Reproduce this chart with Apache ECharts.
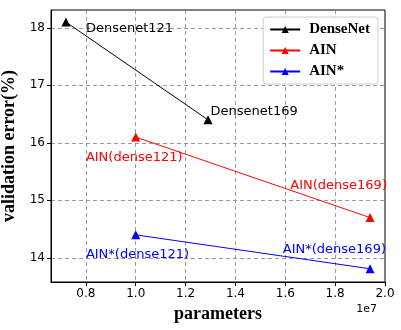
<!DOCTYPE html>
<html><head><meta charset="utf-8">
<script src="https://cdn.jsdelivr.net/npm/echarts@6/dist/echarts.min.js"></script>
<style>html,body{margin:0;padding:0;background:#fff}#c{width:401px;height:330px}</style>
</head><body><div id="c"></div>
<script>
// x values in units of 1e7 parameters
const denseX = [0.72, 1.29];
const denseY = [18.1, 16.4];
const ainX = [1.0, 1.94];
const ainY = [16.1, 14.7];
const ainStarX = [1.0, 1.94];
const ainStarY = [14.4, 13.81];
const xTicks = [0.8, 1.0, 1.2, 1.4, 1.6, 1.8, 2.0];
const yTicks = [14, 15, 16, 17, 18];
const annText = ['Densenet121', 'Densenet169', 'AIN(dense121)', 'AIN(dense169)', 'AIN*(dense121)', 'AIN*(dense169)'];
const annX = [0.80, 1.30, 0.80, 1.62, 0.80, 1.59];
const annY = [17.99, 16.55, 15.74, 15.25, 14.05, 14.15];
const annColor = ['#000000', '#000000', '#ff0000', '#ff0000', '#0000ff', '#0000ff'];

const chart = echarts.init(document.getElementById('c'));
const pair = (xs, ys) => xs.map((x, i) => [x, ys[i]]);
const lineSeries = (name, xs, ys, color) => ({
  name, type: 'line', data: pair(xs, ys), symbol: 'triangle', symbolSize: 9,
  lineStyle: {color, width: 1}, itemStyle: {color}, animation: false, z: 3
});
const gridLine = {show: true, lineStyle: {color: '#808080', type: [4, 3], width: 0.8}};
chart.setOption({
  animation: false,
  grid: {left: 51, right: 16, top: 10, bottom: 48, outerBoundsMode: 'none', containLabel: false,
    show: true, borderColor: '#000', borderWidth: 1},
  xAxis: {
    type: 'value', min: 0.66, max: 2.0,
    name: 'parameters', nameLocation: 'middle', nameGap: 23,
    nameTextStyle: {fontFamily: 'Liberation Serif', fontWeight: 'bold', fontSize: 18, color: '#000'},
    axisLine: {show: true, lineStyle: {color: '#000'}},
    axisTick: {show: true, length: 4, lineStyle: {color: '#000'}, customValues: xTicks},
    axisLabel: {customValues: xTicks, color: '#000', fontFamily: 'DejaVu Sans', fontSize: 12, margin: 6,
      formatter: v => v.toFixed(1)},
    splitLine: gridLine
  },
  yAxis: {
    type: 'value', min: 13.58, max: 18.31,
    name: 'validation error(%)', nameLocation: 'middle', nameGap: 27, nameRotate: 90,
    nameTextStyle: {fontFamily: 'Liberation Serif', fontWeight: 'bold', fontSize: 18, color: '#000'},
    axisLine: {show: true, lineStyle: {color: '#000'}},
    axisTick: {show: true, length: 4, lineStyle: {color: '#000'}, customValues: yTicks},
    axisLabel: {customValues: yTicks, color: '#000', fontFamily: 'DejaVu Sans', fontSize: 12, margin: 6,
      formatter: v => String(Math.round(v))},
    splitLine: gridLine
  },
  legend: {
    right: 23, top: 17, orient: 'vertical', itemGap: 6, itemWidth: 30, itemHeight: 9,
    backgroundColor: 'rgba(255,255,255,0.85)', borderColor: '#ccc', borderWidth: 1, borderRadius: 3,
    padding: [5, 8, 5, 6],
    textStyle: {fontFamily: 'Liberation Serif', fontWeight: 'bold', fontSize: 15, color: '#000', padding: [0, 0, 0, 4]},
    data: ['DenseNet', 'AIN', 'AIN*']
  },
  graphic: [{type: 'text', right: 24, top: 304, style: {text: '1e7', font: '11px DejaVu Sans', fill: '#000'}}],
  series: [
    lineSeries('DenseNet', denseX, denseY, '#000'),
    lineSeries('AIN', ainX, ainY, '#ff0000'),
    lineSeries('AIN*', ainStarX, ainStarY, '#0000ff'),
    {
      type: 'scatter', symbolSize: 0, silent: true, z: 4, itemStyle: {opacity: 1},
      data: annText.map((t, i) => ({
        value: [annX[i], annY[i]],
        label: {show: true, position: 'right', distance: 0, formatter: t, color: annColor[i],
          textBorderWidth: 0, fontFamily: 'DejaVu Sans', fontSize: 13}
      }))
    }
  ]
});
</script></body></html>
